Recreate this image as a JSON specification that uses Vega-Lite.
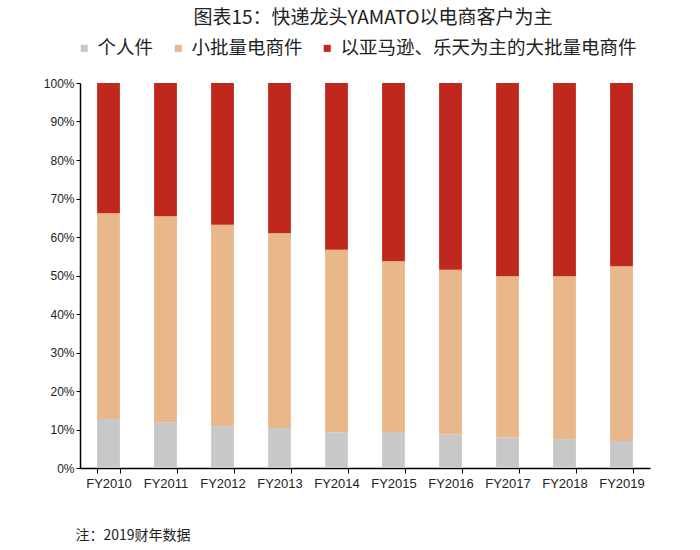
{
  "$schema": "https://vega.github.io/schema/vega-lite/v6.json",
  "autosize": "none",
  "width": 570,
  "height": 385,
  "padding": {"left": 80, "top": 83, "right": 50, "bottom": 82},
  "background": "white",
  "title": {
    "text": "图表15：快递龙头YAMATO以电商客户为主",
    "font": "Noto Sans CJK SC",
    "fontSize": 19,
    "fontWeight": "normal",
    "color": "#222222",
    "anchor": "middle",
    "dx": 8,
    "offset": 11
  },
  "config": {
    "view": {"stroke": null},
    "font": "Noto Sans CJK SC"
  },
  "data": {
    "values": [
      {"year": "FY2010", "type": "个人件", "rank": 1, "v": 0.127},
      {"year": "FY2010", "type": "小批量电商件", "rank": 2, "v": 0.535},
      {"year": "FY2010", "type": "以亚马逊、乐天为主的大批量电商件", "rank": 3, "v": 0.338},
      {"year": "FY2011", "type": "个人件", "rank": 1, "v": 0.119},
      {"year": "FY2011", "type": "小批量电商件", "rank": 2, "v": 0.535},
      {"year": "FY2011", "type": "以亚马逊、乐天为主的大批量电商件", "rank": 3, "v": 0.346},
      {"year": "FY2012", "type": "个人件", "rank": 1, "v": 0.108},
      {"year": "FY2012", "type": "小批量电商件", "rank": 2, "v": 0.524},
      {"year": "FY2012", "type": "以亚马逊、乐天为主的大批量电商件", "rank": 3, "v": 0.368},
      {"year": "FY2013", "type": "个人件", "rank": 1, "v": 0.104},
      {"year": "FY2013", "type": "小批量电商件", "rank": 2, "v": 0.506},
      {"year": "FY2013", "type": "以亚马逊、乐天为主的大批量电商件", "rank": 3, "v": 0.390},
      {"year": "FY2014", "type": "个人件", "rank": 1, "v": 0.093},
      {"year": "FY2014", "type": "小批量电商件", "rank": 2, "v": 0.474},
      {"year": "FY2014", "type": "以亚马逊、乐天为主的大批量电商件", "rank": 3, "v": 0.433},
      {"year": "FY2015", "type": "个人件", "rank": 1, "v": 0.093},
      {"year": "FY2015", "type": "小批量电商件", "rank": 2, "v": 0.444},
      {"year": "FY2015", "type": "以亚马逊、乐天为主的大批量电商件", "rank": 3, "v": 0.463},
      {"year": "FY2016", "type": "个人件", "rank": 1, "v": 0.087},
      {"year": "FY2016", "type": "小批量电商件", "rank": 2, "v": 0.428},
      {"year": "FY2016", "type": "以亚马逊、乐天为主的大批量电商件", "rank": 3, "v": 0.485},
      {"year": "FY2017", "type": "个人件", "rank": 1, "v": 0.079},
      {"year": "FY2017", "type": "小批量电商件", "rank": 2, "v": 0.419},
      {"year": "FY2017", "type": "以亚马逊、乐天为主的大批量电商件", "rank": 3, "v": 0.502},
      {"year": "FY2018", "type": "个人件", "rank": 1, "v": 0.075},
      {"year": "FY2018", "type": "小批量电商件", "rank": 2, "v": 0.423},
      {"year": "FY2018", "type": "以亚马逊、乐天为主的大批量电商件", "rank": 3, "v": 0.502},
      {"year": "FY2019", "type": "个人件", "rank": 1, "v": 0.070},
      {"year": "FY2019", "type": "小批量电商件", "rank": 2, "v": 0.454},
      {"year": "FY2019", "type": "以亚马逊、乐天为主的大批量电商件", "rank": 3, "v": 0.476}
    ]
  },
  "mark": {"type": "bar"},
  "encoding": {
    "x": {
      "field": "year",
      "type": "nominal",
      "scale": {"paddingInner": 0.6, "paddingOuter": 0.3},
      "axis": {
        "title": "注：2019财年数据",
        "titleFont": "Noto Sans CJK SC",
        "titleFontSize": 14,
        "titleFontWeight": "normal",
        "titleColor": "#222222",
        "titleAnchor": "start",
        "titleAlign": "left",
        "titleBaseline": "middle",
        "titleX": -5,
        "titleY": 67,
        "labelAngle": 0,
        "labelFont": "Liberation Sans",
        "labelFontSize": 13,
        "labelColor": "#222222",
        "labelPadding": 4,
        "tickBand": "extent",
        "tickColor": "#000000",
        "tickSize": 5,
        "domainColor": "#000000",
        "domainWidth": 1.5
      }
    },
    "y": {
      "field": "v",
      "type": "quantitative",
      "stack": "zero",
      "scale": {"domain": [0, 1], "nice": false},
      "axis": {
        "title": null,
        "format": ".0%",
        "values": [0, 0.1, 0.2, 0.3, 0.4, 0.5, 0.6, 0.7, 0.8, 0.9, 1],
        "grid": false,
        "labelFont": "Liberation Sans",
        "labelFontSize": 12,
        "labelColor": "#222222",
        "labelPadding": 2,
        "tickColor": "#000000",
        "tickSize": 4,
        "domainColor": "#000000",
        "domainWidth": 1.5
      }
    },
    "color": {
      "field": "type",
      "type": "nominal",
      "sort": ["个人件", "小批量电商件", "以亚马逊、乐天为主的大批量电商件"],
      "scale": {
        "domain": ["个人件", "小批量电商件", "以亚马逊、乐天为主的大批量电商件"],
        "range": ["#C8C8C8", "#E8B88A", "#C0281E"]
      },
      "legend": {
        "title": null,
        "orient": "none",
        "direction": "horizontal",
        "legendX": -5,
        "legendY": -44,
        "symbolType": "square",
        "symbolSize": 50,
        "symbolStrokeWidth": 0,
        "labelFont": "Noto Sans CJK SC",
        "labelFontSize": 18.5,
        "labelLimit": 500,
        "labelColor": "#222222",
        "labelOffset": 4,
        "columnPadding": 15
      }
    },
    "order": {"field": "rank", "type": "quantitative", "sort": "ascending"}
  }
}
